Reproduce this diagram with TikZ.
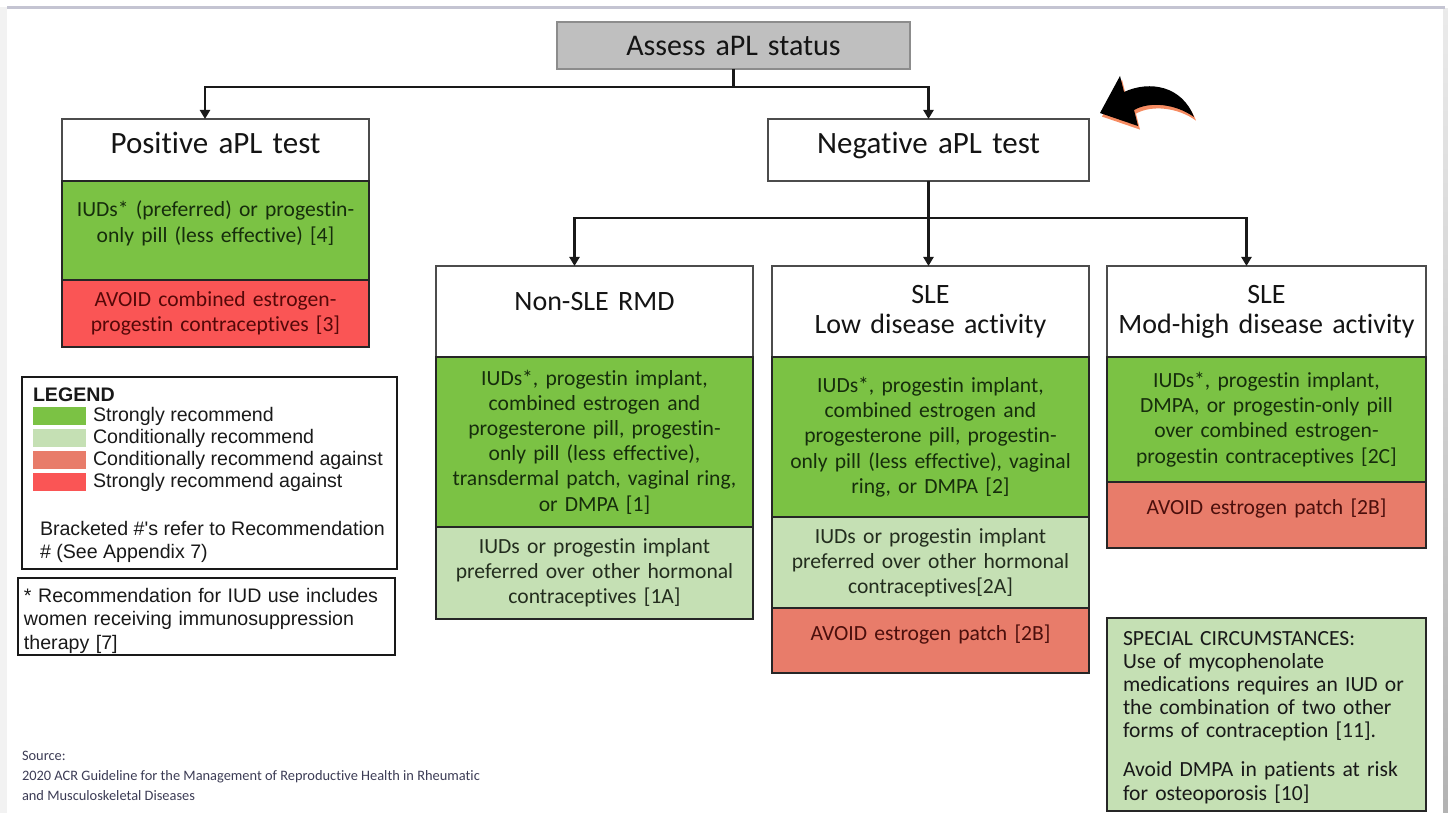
\documentclass[tikz,border=0pt]{standalone}
\usepackage{fontspec}
\setmainfont{Carlito}[Ligatures=NoCommon]
\newfontfamily\arialfont{Liberation Sans}
\usepackage{tikz}
\usetikzlibrary{positioning}
\usetikzlibrary{shadows,arrows.meta}
\definecolor{strongrec}{RGB}{123,194,68}
\definecolor{condrec}{RGB}{197,224,180}
\definecolor{condagainst}{RGB}{232,124,106}
\definecolor{strongagainst}{RGB}{250,85,85}
\definecolor{assessgray}{RGB}{191,191,191}
\definecolor{greentext}{RGB}{22,45,12}
\definecolor{lighttext}{RGB}{35,45,30}
\definecolor{redtext}{RGB}{85,8,8}
\definecolor{salmontext}{RGB}{75,15,12}
\definecolor{sourcetext}{RGB}{60,60,85}
\definecolor{framegray}{RGB}{196,196,210}
\definecolor{arrowshadow}{RGB}{245,120,70}
\newcommand{\topfont}{\fontsize{15.5}{18}\selectfont}
\newcommand{\subfont}{\fontsize{14}{15}\selectfont}
\newcommand{\recfont}{\fontsize{10.8}{12.6}\selectfont}
\newcommand{\legfont}{\arialfont\fontsize{9.8}{11.5}\selectfont}

\begin{document}
\begin{tikzpicture}[x=0.5pt,y=-0.5pt,outer sep=0pt,
colw/.style={text width=#1-8pt, minimum width=#1},
hdr/.style={
  draw=black!70,
  line width=1pt,
  fill=white,
  align=center,
  inner xsep=4pt,
  inner ysep=0pt,
  text=black!92},
topbox/.style={hdr, font=\topfont, text height=17.5pt, text depth=13.5pt},
subbox/.style={hdr, font=\subfont, minimum height=45.5pt},
rec/.style={
  draw=black!85,
  line width=1.3pt,
  align=center,
  inner xsep=4pt,
  inner ysep=0pt,
  font=\recfont},
strong/.style={rec, fill=strongrec, text=greentext},
cond/.style={rec, fill=condrec, text=lighttext},
condno/.style={rec, fill=condagainst, text=salmontext},
strongno/.style={rec, fill=strongagainst, text=redtext},
flow/.style={line width=1.3pt, draw=black!90},
flowarrow/.style={flow, -{Triangle[length=4.5pt,width=5pt]}},
swatch/.style={minimum width=26.5pt, minimum height=9pt, inner sep=0pt},
legtext/.style={font=\legfont, inner sep=0pt, text=black!90},
]
\useasboundingbox (0,0) rectangle (1448,813);
% slide frame
\fill[black!5] (0,7) rectangle (7,813);
\shade[top color=black!8, bottom color=black!30] (1443,9) rectangle (1448,813);
\draw[framegray, line width=1.5pt] (7,7.5) -- (1445,7.5);

% top of the tree
\node[hdr, colw=176.5pt, fill=assessgray, draw=black!45, font=\fontsize{15}{17}\selectfont,
  text height=17pt, text depth=6.5pt, anchor=north west] (assess) at (557,22) {Assess aPL status};
\node[topbox, colw=153.5pt, anchor=north west] (pos) at (62,119) {Positive aPL test};
\node[topbox, colw=160.5pt, anchor=north west] (neg) at (768,119) {Negative aPL test};

% positive branch
\node[strong, colw=153.5pt, text height=18pt, text depth=31.5pt, below=0pt of pos] (posok)
  {IUDs* (preferred) or progestin-\\only pill (less effective) [4]};
\node[strongno, colw=153.5pt, minimum height=33.5pt, below=0pt of posok] (posavoid)
  {AVOID combined estrogen-\\progestin contraceptives [3]};

% negative branch
\node[subbox, colw=158.5pt, text height=22.25pt, text depth=23.25pt, anchor=north west] (nonsle) at (436,266) {Non-SLE RMD};
\node[subbox, colw=158.5pt, anchor=north west] (slelow) at (772,266) {SLE\\Low disease activity};
\node[subbox, colw=159.5pt, anchor=north west] (slehigh) at (1107,266) {SLE\\Mod-high disease activity};

\node[strong, colw=158.5pt, minimum height=85pt, below=0pt of nonsle] (nonsleok)
  {IUDs*, progestin implant,\\combined estrogen and\\progesterone pill, progestin-\\only pill (less effective),\\transdermal patch, vaginal ring,\\or DMPA [1]};
\node[cond, colw=158.5pt, minimum height=46pt, below=0pt of nonsleok] (nonslepref)
  {IUDs or progestin implant\\preferred over other hormonal\\contraceptives [1A]};

\node[strong, colw=158.5pt, minimum height=80pt, below=0pt of slelow] (slelowok)
  {IUDs*, progestin implant,\\combined estrogen and\\progesterone pill, progestin-\\only pill (less effective), vaginal\\ring, or DMPA [2]};
\node[cond, colw=158.5pt, minimum height=45.5pt, below=0pt of slelowok] (slelowpref)
  {IUDs or progestin implant\\preferred over other hormonal\\contraceptives[2A]};
\node[condno, colw=158.5pt, text height=16pt, text depth=16.5pt, below=0pt of slelowpref] (slelowavoid)
  {AVOID estrogen patch [2B]};

\node[strong, colw=159.5pt, minimum height=62.5pt, below=0pt of slehigh] (slehighok)
  {IUDs*, progestin implant,\\DMPA, or progestin-only pill\\over combined estrogen-\\progestin contraceptives [2C]};
\node[condno, colw=159.5pt, text height=16pt, text depth=17pt, below=0pt of slehighok] (slehighavoid)
  {AVOID estrogen patch [2B]};

\node[rec, fill=condrec, text=black!90, align=left, minimum width=159.5pt, text width=143.5pt,
  inner xsep=8pt, font=\fontsize{10.8}{11.6}\selectfont, text height=13.5pt, text depth=83pt,
  anchor=north west] (special) at (1107,618)
  {SPECIAL CIRCUMSTANCES:\\Use of mycophenolate\\medications requires an IUD or\\the combination of two other\\forms of contraception [11].\\[8pt]Avoid DMPA in patients at risk\\for osteoporosis [10]};

% connectors
\coordinate (fork1) at (733.5,87);
\coordinate (fork2) at (928.5,218);
\draw[flow] (assess.south) -- (fork1);
\draw[flowarrow] (fork1) -| ([xshift=-5.25pt]pos.north);
\draw[flowarrow] (fork1) -| (neg.north);
\draw[flowarrow] (neg.south) -- (neg.south |- slelow.north);
\draw[flowarrow] (fork2) -| ([xshift=-10pt]nonsle.north);
\draw[flowarrow] (fork2) -| ([xshift=-10pt]slehigh.north);

% curved arrow
\fill[black, drop shadow={fill=arrowshadow, opacity=0.85, shadow xshift=1pt, shadow yshift=-1.8pt}]
  (1100,113) -- (1120,76) -- (1124,92) .. controls (1150,80) and (1182,86) .. (1194,117)
  .. controls (1176,104) and (1150,101) .. (1134,110) -- (1138,126) -- cycle;

% legend
\node[draw=black!90, line width=1.2pt, minimum width=187.5pt, minimum height=96pt, inner sep=0pt,
  anchor=north west] (legend) at (22,377) {};
\node[legtext, font=\legfont\bfseries, anchor=west] (legtitle) at (33,395) {LEGEND};
\node[swatch, fill=strongrec, anchor=north west] (sw1) at (33,407) {};
\node[swatch, fill=condrec, below=2pt of sw1] (sw2) {};
\node[swatch, fill=condagainst, below=2pt of sw2] (sw3) {};
\node[swatch, fill=strongagainst, below=2pt of sw3] (sw4) {};
\node[legtext, right=3.5pt of sw1] (lt1) {Strongly recommend};
\node[legtext, right=3.5pt of sw2] (lt2) {Conditionally recommend};
\node[legtext, right=3.5pt of sw3] (lt3) {Conditionally recommend against};
\node[legtext, right=3.5pt of sw4] (lt4) {Strongly recommend against};
\node[legtext, align=left, anchor=north west] (bracket) at (40,521)
  {Bracketed \#'s refer to Recommendation\\\# (See Appendix 7)};

\node[draw=black!90, line width=1.2pt, minimum width=188.5pt, inner xsep=3pt, inner ysep=0pt,
  text width=182.5pt, align=left, font=\arialfont\fontsize{9.8}{11.8}\selectfont, text=black!90,
  text height=12pt, text depth=26.5pt, anchor=north west] (iudnote) at (18,578)
  {* Recommendation for IUD use includes\\women receiving immunosuppression\\therapy [7]};

% source
\node[font=\fontsize{7.2}{10}\selectfont, text=sourcetext, align=left, inner sep=0pt,
  anchor=north west] (source) at (22,751)
  {Source:\\2020 ACR Guideline for the Management of Reproductive Health in Rheumatic\\and Musculoskeletal Diseases};
\end{tikzpicture}
\end{document}
